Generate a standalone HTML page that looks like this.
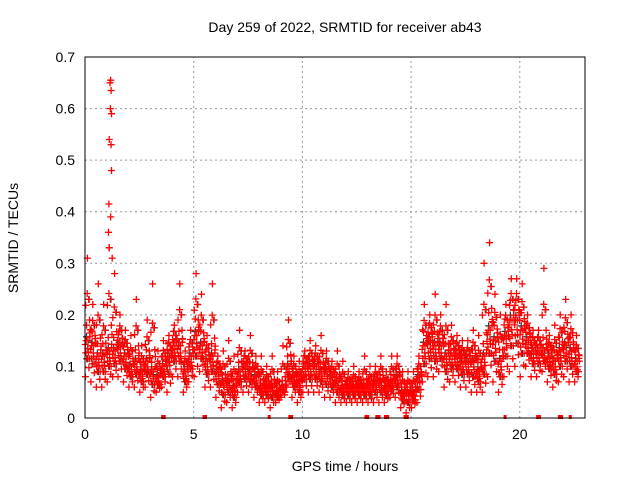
<!DOCTYPE html>
<html><head><meta charset="utf-8"><style>
html,body{margin:0;padding:0;background:#fff;}
svg{display:block;font-family:"Liberation Sans",sans-serif;}
</style></head><body>
<svg id="chart" width="640" height="480" viewBox="0 0 640 480" xmlns="http://www.w3.org/2000/svg">
<rect width="640" height="480" fill="#fff"/>
<g id="grid"></g>
<g id="marks"></g>
<rect x="85" y="57" width="500" height="361" fill="none" stroke="#000" stroke-width="1"/>
<g id="axes" font-size="14" fill="#000"></g>
<text x="345" y="32" text-anchor="middle" font-size="14">Day 259 of 2022, SRMTID for receiver ab43</text>
<text x="345" y="471" text-anchor="middle" font-size="14">GPS time / hours</text>
<text transform="translate(18,238) rotate(-90)" text-anchor="middle" font-size="14">SRMTID / TECUs</text>
</svg>
<script>
const binWidth = 0.25;
const binMid = [.15,.14,.12,.12,.13,.13,.14,.12,.10,.11,.09,.11,.09,.08,.10,.12,.14,.14,.09,.12,.16,.14,.11,.12,.09,.07,.07,.06,.09,.10,.09,.08,.06,.06,.06,.05,.06,.10,.08,.07,.10,.10,.10,.09,.09,.08,.07,.06,.06,.06,.06,.06,.06,.07,.07,.06,.07,.08,.05,.05,.05,.08,.14,.15,.14,.14,.12,.12,.12,.11,.11,.11,.09,.12,.17,.15,.11,.16,.19,.19,.17,.15,.13,.13,.13,.12,.11,.13,.14,.13,.11];
const binLo = [.08,.07,.06,.06,.07,.08,.08,.07,.06,.06,.05,.06,.04,.05,.06,.05,.08,.08,.05,.07,.08,.09,.06,.06,.04,.02,.03,.02,.05,.05,.05,.04,.03,.03,.02,.03,.04,.06,.04,.03,.05,.05,.05,.05,.04,.04,.03,.03,.03,.03,.03,.03,.03,.03,.03,.03,.04,.04,.02,.01,.02,.03,.07,.08,.08,.09,.06,.07,.07,.06,.06,.05,.05,.05,.08,.07,.05,.08,.09,.10,.08,.10,.08,.08,.09,.07,.06,.07,.08,.07,.07];
const binHi = [.31,.22,.26,.22,.33,.28,.20,.17,.16,.23,.14,.19,.26,.13,.15,.16,.18,.26,.13,.17,.28,.24,.16,.26,.12,.13,.15,.12,.17,.13,.16,.12,.12,.10,.12,.09,.14,.19,.12,.11,.13,.15,.14,.16,.13,.11,.13,.11,.09,.10,.09,.12,.10,.10,.12,.09,.12,.12,.09,.09,.09,.12,.22,.20,.24,.20,.22,.18,.16,.15,.15,.17,.16,.30,.34,.24,.20,.22,.27,.27,.26,.20,.17,.17,.29,.16,.18,.20,.23,.20,.16];
const spikeTimes = [1.15,1.18,1.2,1.17,1.22,1.12,1.2,1.22,1.1,1.18,1.08,1.12,1.25];
const spikeValues = [.65,.655,.635,.60,.59,.54,.53,.48,.415,.39,.36,.33,.31];
const zeroTimes = [3.55,3.62,5.45,5.52,8.45,9.4,9.48,12.9,12.98,13.4,13.5,13.8,13.9,14.7,14.8,19.3,20.8,20.88,21.8,21.9,22.3];
const xTicks = [0,5,10,15,20];
const yTicks = [0,0.1,0.2,0.3,0.4,0.5,0.6,0.7];
const yTickLabels = ["0","0.1","0.2","0.3","0.4","0.5","0.6","0.7"];

const NS="http://www.w3.org/2000/svg";
const X0=85,X1=585,Y0=418,Y1=57,XMAX=23,YMAX=0.7;
const xs=h=>X0+h*(X1-X0)/XMAX;
const ys=v=>Y0-v*(Y0-Y1)/YMAX;
function mk(tag,attrs,parent){const e=document.createElementNS(NS,tag);for(const k in attrs)e.setAttribute(k,attrs[k]);parent.appendChild(e);return e;}
const grid=document.getElementById('grid'),axes=document.getElementById('axes'),marks=document.getElementById('marks');
xTicks.forEach((t,i)=>{
  if(t>0){const g=mk('line',{x1:xs(t),x2:xs(t),y1:Y0,y2:Y1,stroke:'#999','stroke-dasharray':'2,3'},grid);
  
  }
  const l=mk('text',{x:xs(t),y:Y0+21,'text-anchor':'middle'},axes);l.textContent=String(t);
  
  
});
yTicks.forEach((t,i)=>{
  if(t>0&&t<YMAX){const g=mk('line',{x1:X0,x2:X1,y1:ys(t),y2:ys(t),stroke:'#999','stroke-dasharray':'2,3'},grid);
  
  }
  const l=mk('text',{x:X0-10,y:ys(t)+5,'text-anchor':'end'},axes);l.textContent=yTickLabels[i];
  
  
});
function plus(h,v,color){
  const x=xs(h),y=ys(v);
  const p=mk('path',{d:`M${(x-3.5).toFixed(1)} ${y.toFixed(1)}h7M${x.toFixed(1)} ${(y-3.5).toFixed(1)}v7`,stroke:color,'stroke-width':1.3,fill:'none'},marks);
  
  
}
const offs=[0.02,0.05,0.08,0.11,0.14,0.17,0.2,0.23,0.03,0.13,0.21];
const offs2=[0.01,0.04,0.07,0.1,0.15,0.18,0.22,0.24];
binMid.forEach((m,i)=>{
  const t=i*binWidth;
  plus(t+0.07,m*1.05,'#333');plus(t+0.19,(m+binHi[i])/2,'#333');plus(t+0.12,(m+binLo[i])/2,'#333');
});
binMid.forEach((m,i)=>{
  const t=i*binWidth,lo=binLo[i],hi=binHi[i];
  const vals=[lo,m,(m+lo)/2,hi,m,(m+hi)/2,(lo+m)/2,m*1.1,(m+hi)/2*0.95,m*0.9,(3*m+hi)/4];
  vals.forEach((v,k)=>plus(t+offs[k],v,'#f00'));
  const vals2=[m*0.95,(m+lo)/2*1.1,m*1.2,(m+hi)/2*1.05,m*0.85,(3*lo+m)/4,m*1.05,(m*3+hi)/4*0.9];
  vals2.forEach((v,k)=>plus(t+offs2[k],v,'#f00'));
});
spikeValues.forEach((v,i)=>plus(spikeTimes[i],v,'#f00'));
zeroTimes.forEach(t=>{
  const r=mk('rect',{x:xs(t)-1,y:Y0-3,width:3,height:4,fill:'#f00'},marks);
  
  
});
</script>
</body></html>
